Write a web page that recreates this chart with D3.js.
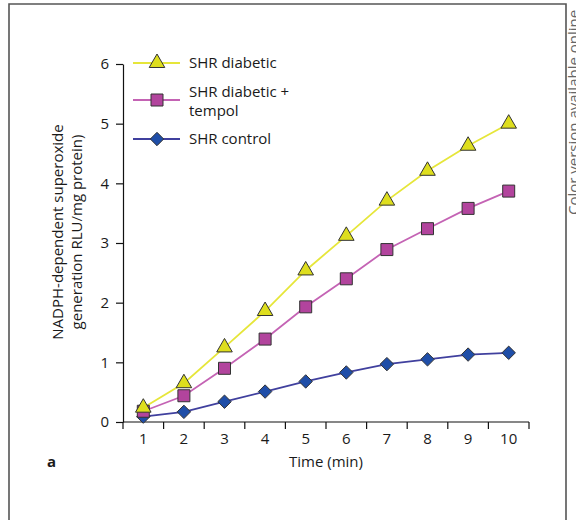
<!DOCTYPE html>
<html>
<head>
<meta charset="utf-8">
<script src="https://cdn.jsdelivr.net/npm/d3@7"></script>
<style>
  html, body { margin: 0; padding: 0; background: #fff; }
  svg { display: block; }
  text { font-family: "Open Sans", "Noto Sans", sans-serif; fill: #1a1a1a; }
</style>
</head>
<body>
<svg id="chart" width="576" height="520"></svg>
<script>
// ---- data ----
const categories = ["1", "2", "3", "4", "5", "6", "7", "8", "9", "10"];
const yTicks = [0, 1, 2, 3, 4, 5, 6];
const seriesNames = ["SHR diabetic", "SHR diabetic + tempol", "SHR control"];
const diabetic = [0.24, 0.65, 1.25, 1.86, 2.54, 3.12, 3.71, 4.21, 4.63, 5.0];
const diabeticTempol = [0.18, 0.44, 0.90, 1.39, 1.93, 2.40, 2.89, 3.24, 3.58, 3.87];
const control = [0.09, 0.17, 0.34, 0.51, 0.68, 0.83, 0.97, 1.05, 1.13, 1.16];

const svg = d3.select("#chart");
const FS = 15;

// frame
svg.append("path")
  .attr("d", "M9,530 L9,4 L566,4 L566,530")
  .attr("fill", "none").attr("stroke", "#555").attr("stroke-width", 1.6);

svg.append("text")
  .attr("transform", "translate(579,215) rotate(-90)")
  .attr("font-size", 15).style("fill", "#666")
  .text("Color version available online");

const x = d3.scaleBand().domain(categories).range([123, 529]).paddingInner(0).paddingOuter(0);
const y = d3.scaleLinear().domain([0, 6]).range([422, 64]);
const cx = c => x(c) + x.bandwidth() / 2;

// x axis
const gx = svg.append("g").attr("transform", "translate(0,422)");
gx.call(d3.axisBottom(x).tickSize(0).tickPadding(11))
  .call(g => g.select(".domain").remove())
  .call(g => g.selectAll("text").attr("font-size", FS).style("fill", "#1a1a1a").attr("font-family", "'Open Sans', sans-serif"));
gx.append("line").attr("x1", 123).attr("x2", 529).attr("stroke", "#111").attr("stroke-width", 1.2);
const bounds = categories.map(c => x(c)).concat([x.range()[1]]);
gx.selectAll("line.bt").data(bounds).join("line").attr("class", "bt")
  .attr("x1", d => d).attr("x2", d => d).attr("y1", 0).attr("y2", 7)
  .attr("stroke", "#111").attr("stroke-width", 1.2);

// y axis
const gy = svg.append("g").attr("transform", "translate(123,0)");
gy.call(d3.axisLeft(y).tickValues(yTicks).tickFormat(d3.format("d")).tickSize(7).tickSizeOuter(0).tickPadding(7))
  .call(g => g.select(".domain").attr("stroke", "#111").attr("stroke-width", 1.2))
  .call(g => g.selectAll(".tick line").attr("stroke", "#111").attr("stroke-width", 1.2))
  .call(g => g.selectAll("text").attr("font-size", FS).style("fill", "#1a1a1a").attr("font-family", "'Open Sans', sans-serif"));

// axis titles
svg.append("text").attr("text-anchor", "middle").attr("font-size", FS)
  .attr("transform", "translate(63,232) rotate(-90)").text("NADPH-dependent superoxide");
svg.append("text").attr("text-anchor", "middle").attr("font-size", FS)
  .attr("transform", "translate(82,232) rotate(-90)").text("generation RLU/mg protein)");
svg.append("text").attr("text-anchor", "middle").attr("font-size", FS)
  .attr("x", 326).attr("y", 467).text("Time (min)");
svg.append("text").attr("font-size", FS).attr("font-weight", "bold")
  .attr("x", 47).attr("y", 467).text("a");

// custom diamond: square rotated 45°
const diamondShape = {
  draw(ctx, size) {
    const r = Math.sqrt(size / 2);
    ctx.moveTo(0, -r); ctx.lineTo(r, 0); ctx.lineTo(0, r); ctx.lineTo(-r, 0); ctx.closePath();
  }
};

// series
const series = [
  { name: seriesNames[0], values: diabetic, line: "#e6e63a", fill: "#dede1e", shape: d3.symbolTriangle, size: 105 },
  { name: seriesNames[1], values: diabeticTempol, line: "#c463b4", fill: "#b2449d", shape: d3.symbolSquare, size: 144 },
  { name: seriesNames[2], values: control, line: "#40409e", fill: "#1f4ea8", shape: diamondShape, size: 90 }
];

const line = d3.line().x((d, i) => cx(categories[i])).y(d => y(d));

[series[2], series[1], series[0]].forEach(s => {
  svg.append("path").datum(s.values).attr("d", line)
    .attr("fill", "none").attr("stroke", s.line).attr("stroke-width", 1.8);
});
[series[2], series[1], series[0]].forEach(s => {
  svg.append("g").selectAll("path").data(s.values).join("path")
    .attr("transform", (d, i) => `translate(${cx(categories[i])},${y(d)})`)
    .attr("d", d3.symbol().type(s.shape).size(s.size))
    .attr("fill", s.fill).attr("stroke", "#333").attr("stroke-width", 1);
});

// legend
const legendY = [63, 100, 139];
series.forEach((s, i) => {
  const g = svg.append("g").attr("transform", `translate(0,${legendY[i]})`);
  g.append("line").attr("x1", 133).attr("x2", 180).attr("stroke", s.line).attr("stroke-width", 1.8);
  g.append("path").attr("transform", "translate(157,0)")
    .attr("d", d3.symbol().type(s.shape).size(s.size))
    .attr("fill", s.fill).attr("stroke", "#333").attr("stroke-width", 1);
});
svg.append("text").attr("x", 189).attr("y", 68).attr("font-size", FS).text("SHR diabetic");
svg.append("text").attr("x", 189).attr("y", 97).attr("font-size", FS).text("SHR diabetic +");
svg.append("text").attr("x", 189).attr("y", 116).attr("font-size", FS).text("tempol");
svg.append("text").attr("x", 189).attr("y", 144).attr("font-size", FS).text("SHR control");
</script>
</body>
</html>
